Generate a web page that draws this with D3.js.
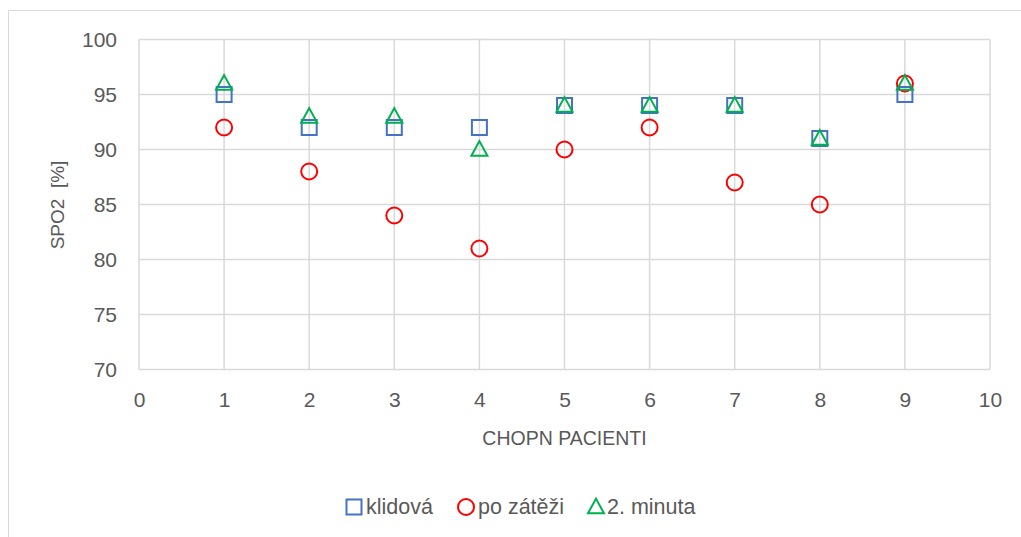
<!DOCTYPE html>
<html>
<head>
<meta charset="utf-8">
<script src="https://cdn.jsdelivr.net/npm/d3@7"></script>
<style>
  html, body { margin: 0; padding: 0; background: #fff; }
  svg { display: block; font-family: "Liberation Sans", Arial, sans-serif; }
</style>
</head>
<body>
<svg id="chart" width="1021" height="537"></svg>
<script>
// Patients on the x axis and SpO2 readings for three moments
const patients = [1, 2, 3, 4, 5, 6, 7, 8, 9];
const klidova = [95, 92, 92, 92, 94, 94, 94, 91, 95];
const poZatezi = [92, 88, 84, 81, 90, 92, 87, 85, 96];
const druhaMinuta = [96, 93, 93, 90, 94, 94, 94, 91, 96];

const xTicks = [0, 1, 2, 3, 4, 5, 6, 7, 8, 9, 10];
const yTicks = [70, 75, 80, 85, 90, 95, 100];
const seriesNames = ["klidová", "po zátěži", "2. minuta"];

const svg = d3.select("#chart");
const W = 1021, H = 537;
const plot = { left: 139, top: 39.5, right: 990, bottom: 369.5 };

const textColor = "#595959";
const gridColor = "#d9d9d9";

// Outer chart frame
svg.append("path")
  .attr("d", `M8.5,${H} L8.5,10.5 L${W},10.5`)
  .attr("fill", "none").attr("stroke", gridColor).attr("stroke-width", 1);

const x = d3.scaleLinear().domain([0, 10]).range([plot.left, plot.right]);
const y = d3.scaleLinear().domain([70, 100]).range([plot.bottom, plot.top]);

// Gridlines
const grid = svg.append("g");
grid.selectAll("line.h").data(yTicks).join("line")
  .attr("x1", plot.left).attr("x2", plot.right)
  .attr("y1", d => y(d)).attr("y2", d => y(d))
  .attr("stroke", gridColor).attr("stroke-width", 1.5);
grid.selectAll("line.v").data(xTicks).join("line")
  .attr("y1", plot.top).attr("y2", plot.bottom)
  .attr("x1", d => x(d)).attr("x2", d => x(d))
  .attr("stroke", gridColor).attr("stroke-width", 1.5);

// Axes (labels only; lines come from the grid)
const xAxis = svg.append("g")
  .attr("transform", `translate(0,${plot.bottom})`)
  .call(d3.axisBottom(x).tickValues(xTicks).tickSize(0).tickPadding(23));
const yAxis = svg.append("g")
  .attr("transform", `translate(${plot.left},0)`)
  .call(d3.axisLeft(y).tickValues(yTicks).tickSize(0).tickPadding(22));
[xAxis, yAxis].forEach(a => {
  a.select(".domain").remove();
  a.selectAll("text")
    .attr("fill", textColor)
    .style("font-size", "21px")
    .style("font-family", "\"Liberation Sans\", Arial, sans-serif");
});

// Axis titles
svg.append("text")
  .attr("x", 564.5).attr("y", 445)
  .attr("text-anchor", "middle").attr("fill", textColor)
  .style("font-size", "19.5px")
  .text("CHOPN PACIENTI");
svg.append("text")
  .attr("transform", `translate(64,205) rotate(-90)`)
  .attr("text-anchor", "middle").attr("fill", textColor)
  .style("font-size", "19px")
  .attr("xml:space", "preserve")
  .text("SPO2  [%]");

// Marker shapes
const colors = ["#4472C4", "#FF0000", "#00B050"];
const sq = 15, rad = 8, tri = 16;
function drawMarker(g, kind, cx, cy) {
  if (kind === 0) {
    g.append("rect").attr("x", cx - sq / 2).attr("y", cy - sq / 2)
      .attr("width", sq).attr("height", sq)
      .attr("fill", "none").attr("stroke", colors[0]).attr("stroke-width", 2);
  } else if (kind === 1) {
    g.append("circle").attr("cx", cx).attr("cy", cy).attr("r", rad)
      .attr("fill", "none").attr("stroke", colors[1]).attr("stroke-width", 2);
  } else {
    const h = tri * 0.92;
    g.append("path")
      .attr("d", `M${cx},${cy - h / 2 - 1} L${cx + tri / 2},${cy + h / 2 - 1} L${cx - tri / 2},${cy + h / 2 - 1} Z`)
      .attr("fill", "none").attr("stroke", colors[2]).attr("stroke-width", 2)
      .attr("stroke-linejoin", "miter");
  }
}

const allSeries = [klidova, poZatezi, druhaMinuta];
const marks = svg.append("g");
allSeries.forEach((vals, k) => {
  const g = marks.append("g").attr("class", "series-" + k);
  vals.forEach((v, i) => drawMarker(g, k, x(patients[i]), y(v)));
});

// Legend
const legendItems = [
  { k: 0, mx: 354, tx: 366 },
  { k: 1, mx: 466, tx: 478 },
  { k: 2, mx: 596, tx: 607 }
];
const legend = svg.append("g");
legendItems.forEach(it => {
  const g = legend.append("g");
  drawMarker(g, it.k, it.mx, 507);
  g.append("text").attr("x", it.tx).attr("y", 514)
    .attr("fill", textColor).style("font-size", "21.5px")
    .text(seriesNames[it.k]);
});
</script>
</body>
</html>
